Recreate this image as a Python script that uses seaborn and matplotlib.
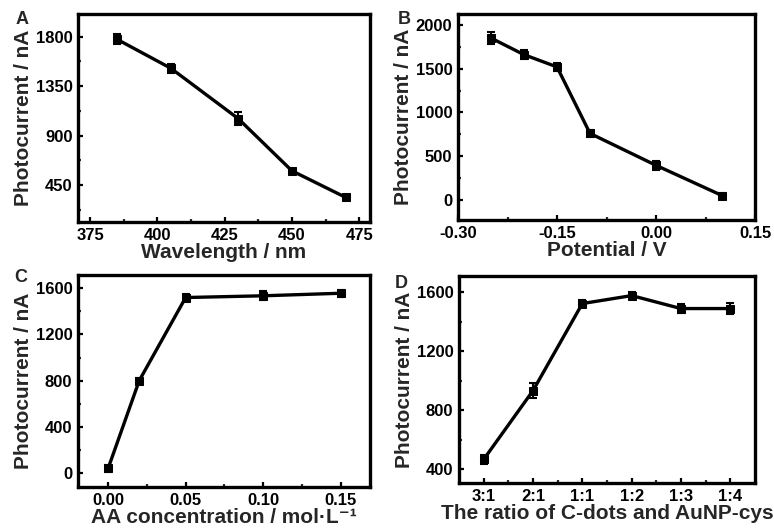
import numpy as np
import pandas as pd
import matplotlib
matplotlib.use("Agg")
import matplotlib.pyplot as plt
import seaborn as sns
from matplotlib.ticker import MultipleLocator, FixedLocator

# ---- data ----
wavelength = [385, 405, 430, 450, 470]
current_a = [1775, 1512, 1055, 580, 338]
err_a = [45, 40, 60, 20, 25]

potential = [-0.25, -0.20, -0.15, -0.10, 0.00, 0.10]
current_b = [1850, 1660, 1520, 760, 395, 50]
err_b = [70, 50, 50, 40, 50, 30]

aa_conc = [0.00, 0.02, 0.05, 0.10, 0.15]
current_c = [43, 800, 1520, 1535, 1557]
err_c = [30, 20, 30, 40, 30]

ratio_labels = ["3:1", "2:1", "1:1", "1:2", "1:3", "1:4"]
current_d = [465, 932, 1523, 1577, 1489, 1489]
err_d = [30, 50, 25, 25, 30, 40]

# tick values / labels
ticks_a_x = [375, 400, 425, 450, 475]
ticks_a_y = [450, 900, 1350, 1800]
ticks_b_x = [-0.30, -0.15, 0.00, 0.15]
ticks_b_y = [0, 500, 1000, 1500, 2000]
ticks_c_x = [0.00, 0.05, 0.10, 0.15]
ticks_c_y = [0, 400, 800, 1200, 1600]
ticks_d_y = [400, 800, 1200, 1600]

# ---- style ----
sns.set_theme(style="ticks")
plt.rcParams["font.family"] = ["Liberation Sans", "DejaVu Sans"]
plt.rcParams["font.weight"] = "bold"
plt.rcParams["axes.labelweight"] = "bold"

W, H = 774, 528
fig = plt.figure(figsize=(W / 100, H / 100), dpi=100)
fig.patch.set_facecolor("white")

TICKFS = 12


def make_ax(l, r, t, b):
    return fig.add_axes([l / W, 1 - b / H, (r - l) / W, (b - t) / H])


def style(ax, xlabel, xlp=0):
    for s in ax.spines.values():
        s.set_linewidth(2.4)
        s.set_color("black")
    ax.tick_params(axis="both", which="major", direction="in", length=3.5, width=1.6,
                   colors="black", pad=4)
    ax.tick_params(axis="both", which="minor", direction="in", length=2.5, width=1.6)
    ax.set_xlabel(xlabel, fontsize=15, fontweight="bold", labelpad=xlp)
    ax.set_ylabel("Photocurrent / nA", fontsize=15, fontweight="bold", labelpad=2)
    ax.set_facecolor("white")


def set_ticks(ax, xt, xl, yt, yl):
    ax.set_xticks(xt)
    ax.set_xticklabels(xl, fontsize=TICKFS, fontweight="bold")
    ax.set_yticks(yt)
    ax.set_yticklabels(yl, fontsize=TICKFS, fontweight="bold")


def draw(ax, x, y, e, xpos=None):
    df = pd.DataFrame({"x": x, "y": y})
    sns.lineplot(data=df, x="x", y="y", ax=ax, color="black", linewidth=2.4,
                 marker="s", markersize=6, markeredgecolor="black", sort=False)
    xp = x if xpos is None else xpos
    ax.errorbar(xp, y, yerr=e, fmt="none", ecolor="black", elinewidth=1.5,
                capsize=3, capthick=1.5)


# A
axA = make_ax(78, 370, 14, 222)
draw(axA, wavelength, current_a, err_a)
set_ticks(axA, ticks_a_x, [str(v) for v in ticks_a_x], ticks_a_y, [str(v) for v in ticks_a_y])
axA.set_xlim(370.5, 479)
axA.set_ylim(115, 2005)
axA.xaxis.set_minor_locator(MultipleLocator(12.5))
axA.yaxis.set_minor_locator(FixedLocator([225, 675, 1125, 1575]))
style(axA, "Wavelength / nm")

# B
axB = make_ax(458, 755, 14, 220)
draw(axB, potential, current_b, err_b)
set_ticks(axB, ticks_b_x, [f"{v:.2f}" for v in ticks_b_x], ticks_b_y, [str(v) for v in ticks_b_y])
axB.set_xlim(-0.30, 0.15)
axB.set_ylim(-230, 2125)
axB.xaxis.set_minor_locator(FixedLocator([-0.225, -0.075, 0.075]))
axB.yaxis.set_minor_locator(MultipleLocator(250))
style(axB, "Potential / V")

# C
axC = make_ax(78, 370, 275, 487)
draw(axC, aa_conc, current_c, err_c)
set_ticks(axC, ticks_c_x, [f"{v:.2f}" for v in ticks_c_x], ticks_c_y, [str(v) for v in ticks_c_y])
axC.set_xlim(-0.0195, 0.169)
axC.set_ylim(-120, 1715)
axC.xaxis.set_minor_locator(FixedLocator([0.025, 0.075, 0.125]))
axC.yaxis.set_minor_locator(MultipleLocator(200))
style(axC, "AA concentration / mol·L\u207b\u00b9", xlp=0)

# D
axD = make_ax(459, 755, 276, 483)
idx = list(range(len(ratio_labels)))
draw(axD, ratio_labels, current_d, err_d, xpos=idx)
set_ticks(axD, idx, ratio_labels, ticks_d_y, [str(v) for v in ticks_d_y])
axD.set_xlim(-0.5, 5.5)
axD.set_ylim(305, 1710)
axD.xaxis.set_minor_locator(FixedLocator([i + 0.5 for i in idx[:-1]]))
axD.yaxis.set_minor_locator(MultipleLocator(200))
style(axD, "The ratio of C-dots and AuNP-cys")

# panel letters
for letter, (px, py) in {"A": (22, 20), "B": (404, 19), "C": (21, 278), "D": (401, 283)}.items():
    fig.text(px / W, 1 - py / H, letter, fontsize=13, fontweight="bold",
             ha="center", va="center")

fig.savefig("out.png", dpi=100, facecolor="white")
